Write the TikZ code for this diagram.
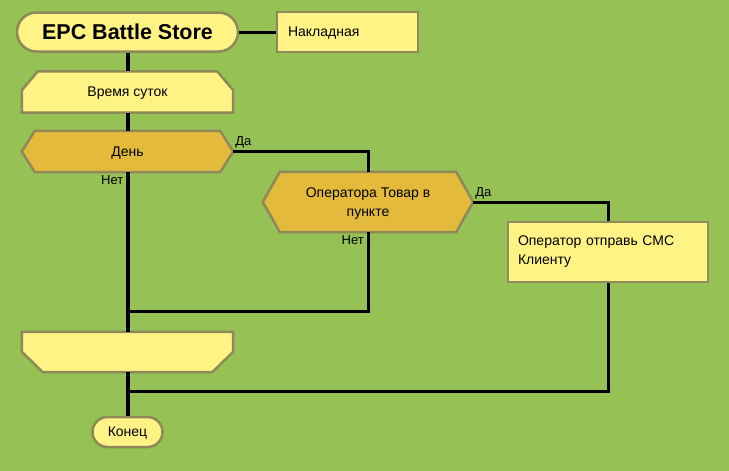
\documentclass[tikz,border=0pt]{standalone}
\usepackage{fontspec}
\setmainfont{Liberation Sans}
\usetikzlibrary{calc, backgrounds, positioning}
\usepackage{xcolor}

\definecolor{fondo}{HTML}{95C155}
\definecolor{amarillo}{HTML}{FFF385}
\definecolor{dorado}{HTML}{E3BA3C}
\definecolor{borde}{HTML}{8F8858}

\begin{document}
\begin{tikzpicture}[
	x=1pt, y=-1pt, % una unidad = un pixel, y hacia abajo
	% --- Estilos ---
	caja/.style={
		draw=borde,
		line width=2.5pt,
		fill=amarillo,
		rectangle,
		inner sep=0pt,
		font=\fontsize{14}{19}\selectfont
	},
	inicio/.style={
		caja,
		text depth=0pt,
		rounded corners=19.5pt
	},
	forma/.style={
		rectangle,
		inner sep=0pt,
		minimum width=211pt,
		minimum height=41pt,
		text depth=0pt,
		font=\fontsize{14}{19}\selectfont
	},
	contorno/.style={
		draw=borde,
		line width=2.5pt,
		line join=miter
	},
	linea/.style={
		line width=3pt
	},
	linea_principal/.style={
		line width=4pt
	},
	etiqueta/.style={
		inner sep=0pt,
		font=\fontsize{13}{15}\selectfont
	}
	]
	% 0. Fondo y margenes
	\begin{pgfonlayer}{background}
		\fill[fondo] (0,0) rectangle (729,471);
	\end{pgfonlayer}
	\useasboundingbox (0,0) rectangle (729,471);
	
	% 1. Nodos de la columna principal
	\node[inicio, minimum width=221pt, minimum height=39pt,
		font=\fontsize{21.5}{24}\selectfont\bfseries] (titulo) at (127.5,32) {EPC Battle Store};
	\node[caja, text depth=0pt, minimum width=141pt, minimum height=40pt,
		text width=119pt, align=left] (factura) at (347.5,32) {Накладная};
	\node[forma] (hora) at (127.5,92) {Время суток};
	\node[forma] (dia) at (127.5,151.5) {День};
	\node[forma, minimum height=40pt] (fin_ciclo) at (127.5,352) {};
	\node[inicio, minimum width=70pt, minimum height=30pt,
		rounded corners=15pt] (fin) at (127.5,432) {Конец};
	
	% 2. Rama derecha
	\node[forma, minimum width=210pt, minimum height=60pt,
		align=center] (operador) at (368,202) {Оператора Товар в\\пункте};
	\node[caja, minimum width=200pt, minimum height=60pt,
		text width=180pt, align=left] (sms) at (608,252) {Оператор отправь СМС\\Клиенту};
	
	% 3. Contornos de las formas (detras del texto)
	\begin{pgfonlayer}{background}
		\draw[contorno, fill=amarillo] (hora.south west) -- ($(hora.north west)+(0,19)$)
		-- ($(hora.north west)+(16,0)$) -- ($(hora.north east)+(-16,0)$)
		-- ($(hora.north east)+(0,19)$) -- (hora.south east) -- cycle;
		\foreach \n/\d in {dia/13, operador/17}{
			\draw[contorno, fill=dorado] (\n.west) -- ($(\n.north west)+(\d,0)$)
			-- ($(\n.north east)+(-\d,0)$) -- (\n.east)
			-- ($(\n.south east)+(-\d,0)$) -- ($(\n.south west)+(\d,0)$) -- cycle;
		}
		\draw[contorno, fill=amarillo] (fin_ciclo.north west) -- (fin_ciclo.north east)
		-- ($(fin_ciclo.north east)+(0,20)$) -- ($(fin_ciclo.south east)+(-21,0)$)
		-- ($(fin_ciclo.south west)+(21,0)$) -- ($(fin_ciclo.north west)+(0,20)$) -- cycle;
	\end{pgfonlayer}
	
	% 4. Conectores
	\draw[linea] (titulo.east) -- (factura.west);
	\draw[linea_principal] (titulo.south) -- (hora.north);
	\draw[linea_principal] (hora.south) -- (dia.north);
	\draw[linea_principal] (dia.south) -- (fin_ciclo.north);
	\draw[linea_principal] (fin_ciclo.south) -- (fin.north);
	
	\coordinate (union_no) at (127.5,311);
	\coordinate (union_sms) at (127.5,391);
	\draw[linea] (dia.east) -| (operador.north);
	\draw[linea] (operador.east) -| (sms.north);
	\draw[linea] (operador.south) |- (union_no);
	\draw[linea] (sms.south) |- (union_sms);
	
	% 5. Etiquetas Da / Net
	\node[etiqueta, above right=3pt and 2pt] (si_dia) at (dia.east) {Да};
	\node[etiqueta, below left=3pt and 4pt] (no_dia) at (dia.south) {Нет};
	\node[etiqueta, above right=3pt and 2pt] (si_operador) at (operador.east) {Да};
	\node[etiqueta, below left=3pt and 4pt] (no_operador) at (operador.south) {Нет};
	
\end{tikzpicture}
\end{document}
